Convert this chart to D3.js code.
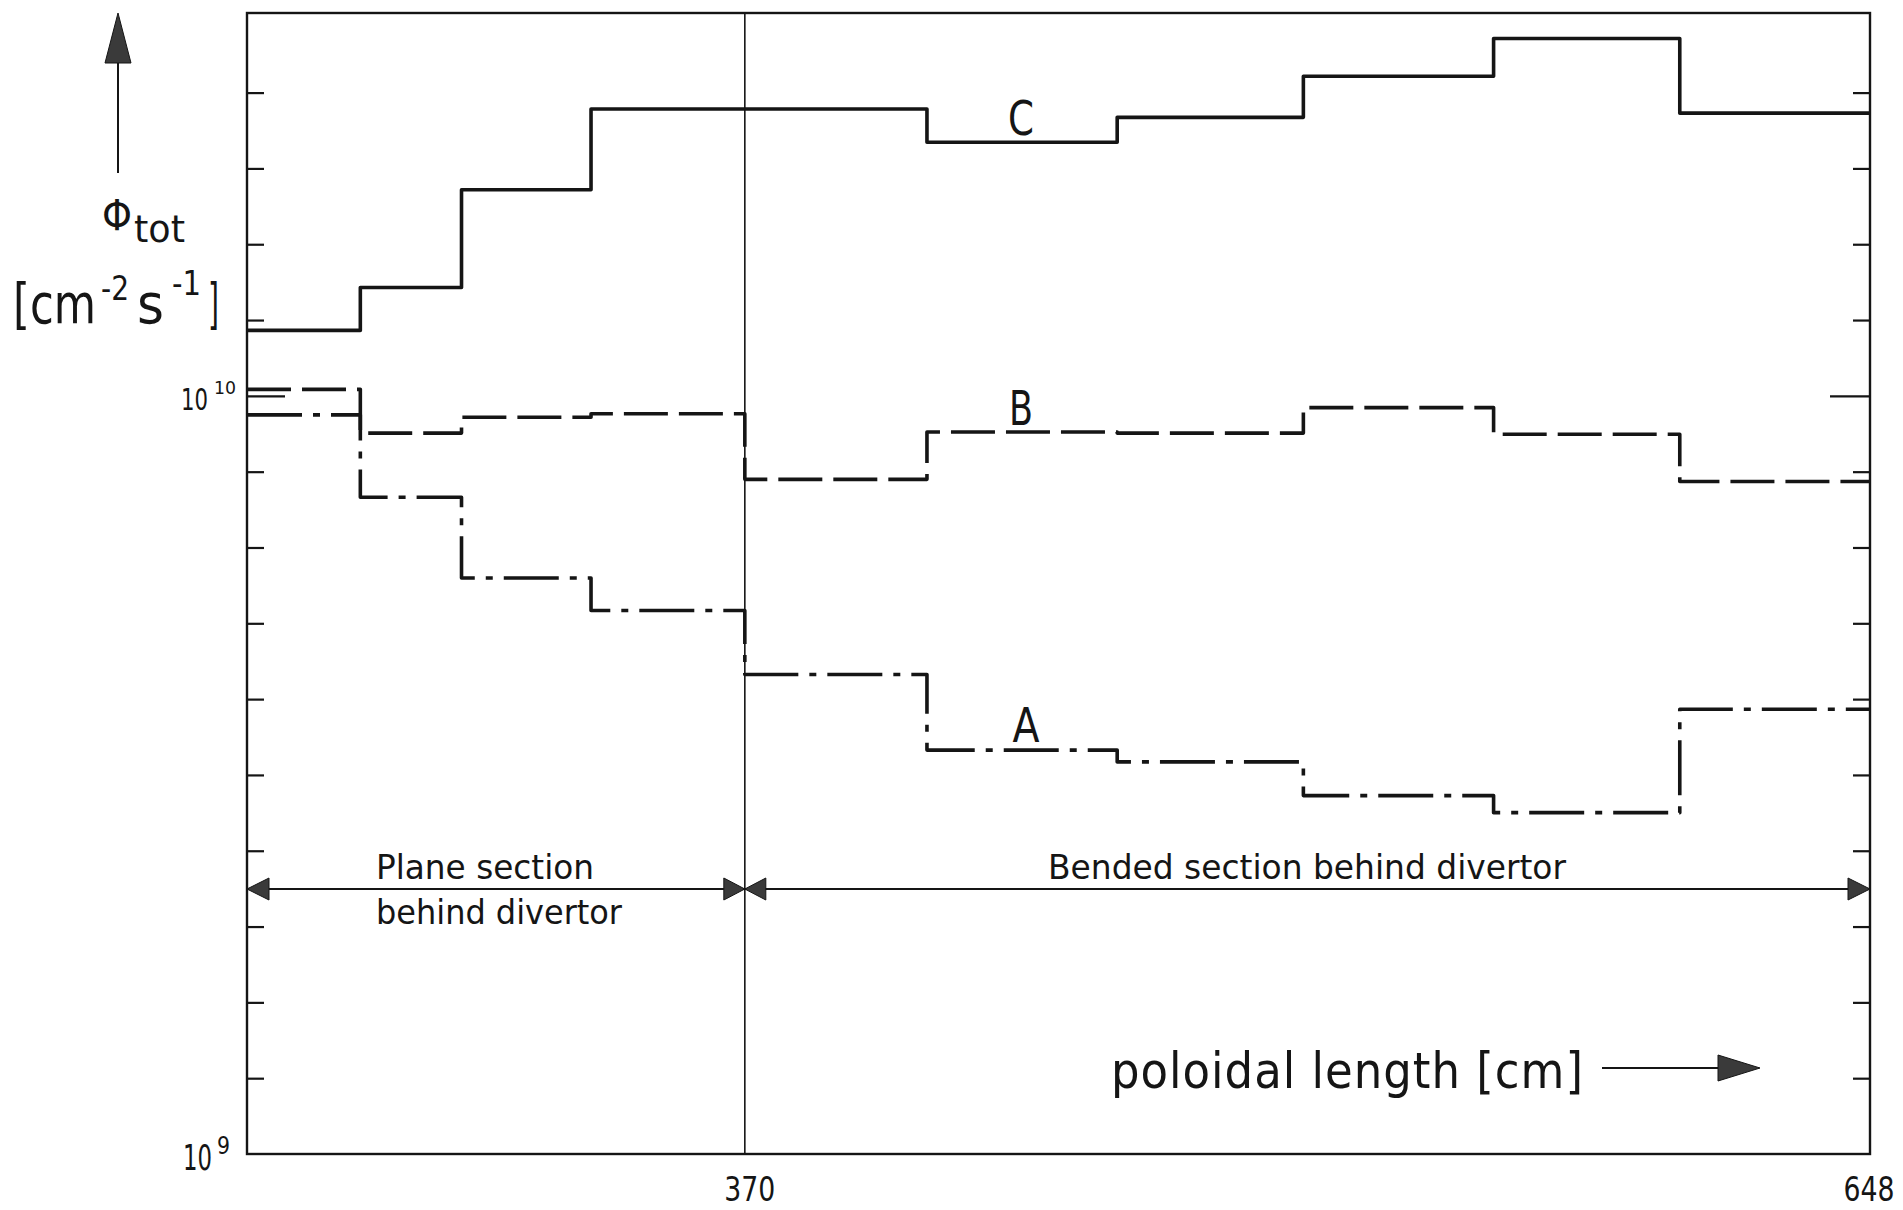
<!DOCTYPE html>
<html>
<head>
<meta charset="utf-8">
<script src="https://cdn.jsdelivr.net/npm/d3@7"></script>
<style>
  body { margin: 0; background: #fff; }
  svg { display: block; }
  text { font-family: "DejaVu Sans Condensed", "DejaVu Sans", sans-serif; font-stretch: condensed; fill: #151515; }
</style>
</head>
<body>
<script>
// Poloidal positions (cm) of the step boundaries along the wall
const edges = [247, 275, 300, 332, 370, 415, 462, 508, 555, 601, 648];

// Total flux per wall segment, cm^-2 s^-1
const fluxA = [9.44e9, 7.35e9, 5.75e9, 5.21e9, 4.29e9, 3.41e9, 3.29e9, 2.97e9, 2.82e9, 3.86e9];
const fluxB = [1.02e10, 8.93e9, 9.37e9, 9.47e9, 7.76e9, 8.96e9, 8.93e9, 9.65e9, 8.90e9, 7.71e9];
const fluxC = [1.22e10, 1.39e10, 1.87e10, 2.39e10, 2.39e10, 2.16e10, 2.33e10, 2.64e10, 2.96e10, 2.36e10];

// Axis labels
const xTickValues = [370, 648];
const xTickLabels = ["370", "648"];
const yLabelValues = [1e9, 1e10];
const yLabelExponents = ["9", "10"];
const yMinorExponents = [9.1, 9.2, 9.3, 9.4, 9.5, 9.6, 9.7, 9.8, 9.9, 10.0, 10.1, 10.2, 10.3, 10.4];

const W = 1903, H = 1210;
const plotL = 247, plotR = 1870, plotT = 13, plotB = 1154;
const ink = "#151515";

const svg = d3.select("body").append("svg").attr("width", W).attr("height", H);

const x = d3.scaleLinear().domain([247, 648]).range([plotL, plotR]);
const y = d3.scaleLog().domain([1e9, Math.pow(10, 10.505)]).range([plotB, plotT]);

// Frame
svg.append("rect")
  .attr("x", plotL).attr("y", plotT)
  .attr("width", plotR - plotL).attr("height", plotB - plotT)
  .attr("fill", "none").attr("stroke", ink).attr("stroke-width", 2.4);

// Inward ticks on both vertical axes, every tenth of a decade
const minorVals = yMinorExponents.map(e => Math.pow(10, e));
const leftAxis = d3.axisLeft(y).tickValues(minorVals).tickSize(-17).tickFormat("");
const rightAxis = d3.axisRight(y).tickValues(minorVals).tickSize(-17).tickFormat("");
const gL = svg.append("g").attr("transform", `translate(${plotL},0)`).call(leftAxis);
const gR = svg.append("g").attr("transform", `translate(${plotR},0)`).call(rightAxis);
[gL, gR].forEach(g => {
  g.select(".domain").remove();
  g.selectAll(".tick line").attr("stroke", ink).attr("stroke-width", 2.2);
});
gL.selectAll(".tick line").filter(d => Math.abs(Math.log10(d) - 10) < 1e-6).attr("x2", 38);
gR.selectAll(".tick line").filter(d => Math.abs(Math.log10(d) - 10) < 1e-6).attr("x2", -40);

// Boundary between the plane and bended sections
svg.append("line")
  .attr("x1", x(370)).attr("x2", x(370))
  .attr("y1", plotT).attr("y2", plotB)
  .attr("stroke", ink).attr("stroke-width", 1.6);

// Text helper that fits a string to a given width
function label(str, px, py, size, width, anchor, adjust) {
  const t = svg.append("text")
    .attr("x", px).attr("y", py)
    .attr("font-size", size)
    .attr("text-anchor", anchor || "start")
    .text(str);
  if (width) t.attr("textLength", width).attr("lengthAdjust", adjust || "spacingAndGlyphs");
  return t;
}

// One text element built from positioned runs (for super/subscripts)
function richLabel(runs) {
  const t = svg.append("text");
  runs.forEach(r => {
    const s = t.append("tspan")
      .attr("x", r.x).attr("y", r.y)
      .attr("font-size", r.size)
      .text(r.str);
    if (r.w) s.attr("textLength", r.w).attr("lengthAdjust", "spacingAndGlyphs");
  });
  return t;
}

// y tick labels (10^n)
yLabelValues.forEach((v, i) => {
  const big = i === 0;
  richLabel([
    { str: "10", x: big ? 183 : 181, y: y(v) + (big ? 16 : 14), size: big ? 36 : 31, w: big ? 29 : 27 },
    { str: yLabelExponents[i], x: big ? 217 : 214, y: y(v) + (big ? 0 : -2), size: big ? 24 : 18, w: big ? 13 : 22 }
  ]);
});

// x tick labels
xTickValues.forEach((v, i) => {
  label(xTickLabels[i], x(v) + 5 - (i === 1 ? 6 : 0), 1201, 34, 51, "middle");
});

// Step curves
function stepData(vals) {
  const pts = vals.map((v, i) => [edges[i], v]);
  pts.push([edges[edges.length - 1], vals[vals.length - 1]]);
  return pts;
}
const stepLine = d3.line().x(d => x(d[0])).y(d => y(d[1])).curve(d3.curveStepAfter);

const series = [
  { vals: fluxC, dash: null },
  { vals: fluxB, dash: "44 11" },
  { vals: fluxA, dash: "55 11 7 11" }
];
series.forEach(s => {
  svg.append("path")
    .attr("d", stepLine(stepData(s.vals)))
    .attr("fill", "none")
    .attr("stroke", ink)
    .attr("stroke-width", 3.6)
    .attr("stroke-linejoin", "round")
    .attr("stroke-dasharray", s.dash);
});

// Curve names
label("C", 1021, 135, 48, 26, "middle");
label("B", 1021, 425, 48, 24, "middle");
label("A", 1026, 742, 48, 27, "middle");

// Section extent arrows
const ay = 889;
svg.append("line").attr("x1", plotL).attr("x2", plotR).attr("y1", ay).attr("y2", ay)
  .attr("stroke", ink).attr("stroke-width", 1.8);
function head(tipX, tipY, dir, len, half, horizontal) {
  const pts = horizontal
    ? [[tipX, tipY], [tipX - dir * len, tipY - half], [tipX - dir * len, tipY + half]]
    : [[tipX, tipY], [tipX - half, tipY - dir * len], [tipX + half, tipY - dir * len]];
  svg.append("polygon").attr("points", pts.map(p => p.join(",")).join(" "))
    .attr("fill", "#3a3a3a").attr("stroke", ink).attr("stroke-width", 1);
}
head(plotL, ay, -1, 22, 11, true);
head(x(370), ay, 1, 21, 11, true);
head(x(370), ay, -1, 21, 11, true);
head(plotR, ay, 1, 22, 11, true);

label("Plane section", 376, 879, 33, 218);
label("behind divertor", 376, 924, 33, 246);
label("Bended section behind divertor", 1048, 879, 33, 518);

// x axis title with arrow
label("poloidal length [cm]", 1111, 1088, 50, 472, "start", "spacing");
svg.append("line").attr("x1", 1602).attr("x2", 1722).attr("y1", 1068).attr("y2", 1068)
  .attr("stroke", ink).attr("stroke-width", 2);
head(1760, 1068, 1, 42, 13, true);

// y axis title with arrow
svg.append("line").attr("x1", 118).attr("x2", 118).attr("y1", 173).attr("y2", 60)
  .attr("stroke", ink).attr("stroke-width", 2);
head(118, 13, -1, 50, 13, false);
richLabel([
  { str: "\u03A6", x: 102, y: 230, size: 42, w: 30 },
  { str: "tot", x: 134, y: 242, size: 38, w: 51 }
]);
richLabel([
  { str: "[cm", x: 13, y: 323, size: 55, w: 83 },
  { str: "-2", x: 101, y: 300, size: 34, w: 28 },
  { str: "s", x: 137, y: 323, size: 55, w: 27 },
  { str: "-1", x: 172, y: 295, size: 34, w: 29 },
  { str: "]", x: 208, y: 323, size: 55, w: 11 }
]);
</script>
</body>
</html>
